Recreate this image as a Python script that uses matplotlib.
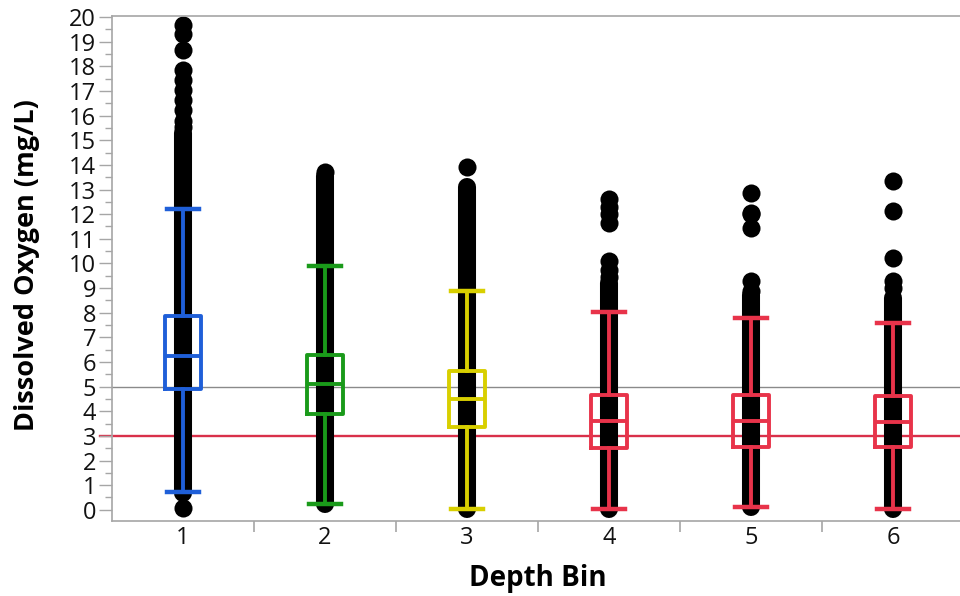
import numpy as np
import matplotlib
matplotlib.use("Agg")
import matplotlib.pyplot as plt

plt.rcParams['font.family'] = ['Open Sans', 'DejaVu Sans']

# depth bins and box statistics (mg/L)
bins = [1, 2, 3, 4, 5, 6]
whis_lo = [0.73, 0.25, 0.05, 0.04, 0.12, 0.05]
q1 = [4.89, 3.90, 3.38, 2.49, 2.57, 2.53]
med = [6.23, 5.10, 4.50, 3.62, 3.62, 3.58]
q3 = [7.86, 6.30, 5.62, 4.68, 4.68, 4.60]
whis_hi = [12.22, 9.90, 8.88, 8.02, 7.78, 7.58]
box_colors = ["#1f5fd8", "#1a9a1a", "#d8cf00", "#e8334a", "#e8334a", "#e8334a"]

# range where the raw points overlap into a solid column
dense_lo = [0.70, 0.25, 0.04, 0.05, 0.12, 0.05]
dense_hi = [15.30, 13.55, 13.10, 9.20, 8.70, 8.60]

# individual points outside the solid column
points = [
    [0.06, 15.52, 15.80, 16.21, 16.62, 17.03, 17.43, 17.84, 18.66, 19.33, 19.67],
    [13.70],
    [13.93],
    [9.45, 9.75, 10.10, 11.65, 12.00, 12.30, 12.63],
    [8.88, 9.29, 11.45, 12.00, 12.06, 12.87],
    [9.00, 9.29, 10.22, 12.14, 13.36],
]

ref_do = 5.0
ref_hypoxia = 3.0

fig = plt.figure(figsize=(9.6, 5.96), dpi=100)
ax = fig.add_axes([0.1167, 0.126, 0.8875, 0.847])

ax.axhline(ref_do, color="#8a8a8a", lw=1.0, zorder=1)
ax.axhline(ref_hypoxia, color="#d9304a", lw=1.7, zorder=1, xmin=-0.014, clip_on=False)

for i, b in enumerate(bins):
    ax.plot([b, b], [dense_lo[i], dense_hi[i]], color="black", lw=13,
            solid_capstyle="round", zorder=2)
    ax.plot([b] * len(points[i]), points[i], "o", color="black", ms=13,
            mec="none", zorder=2)

stats = []
for i, b in enumerate(bins):
    stats.append(dict(whislo=whis_lo[i], q1=q1[i], med=med[i], q3=q3[i],
                      whishi=whis_hi[i], fliers=[]))
art = ax.bxp(stats, positions=bins, widths=0.26, capwidths=0.226,
             showfliers=False, manage_ticks=False)
for i, c in enumerate(box_colors):
    art["boxes"][i].set(color=c, lw=2.8, zorder=3)
    art["medians"][i].set(color=c, lw=2.8, zorder=3)
    for k in (2 * i, 2 * i + 1):
        art["whiskers"][k].set(color=c, lw=2.8, zorder=3)
        art["caps"][k].set(color=c, lw=3.2, zorder=3)

ax.set_xlim(0.5, 6.5)
ax.set_ylim(-0.45, 20.04)
ax.set_yticks(np.arange(0, 21, 1))
ax.set_yticks(np.arange(0.5, 20, 1), minor=True)
ax.set_xticks(bins)
ax.set_xticks(np.arange(1.5, 6.5, 1), minor=True)

grey = "#a6a6a6"
for s in ax.spines.values():
    s.set_color(grey)
    s.set_linewidth(1.2)
ax.tick_params(axis="y", which="major", length=9.5, width=1, color=grey,
               labelsize=17, pad=2, labelcolor="#111111")
ax.tick_params(axis="y", which="minor", length=5, width=1, color=grey)
ax.tick_params(axis="x", which="major", length=0, labelsize=17, pad=4,
               labelcolor="#111111")
ax.tick_params(axis="x", which="minor", length=8, width=1.2, color=grey)

ax.set_xlabel("Depth Bin", fontsize=20, fontweight="bold", labelpad=10)
ax.set_ylabel("Dissolved Oxygen (mg/L)", fontsize=19.5, fontweight="bold")
ax.yaxis.set_label_coords(-0.084, 0.506)

fig.savefig("out.png", dpi=100)
